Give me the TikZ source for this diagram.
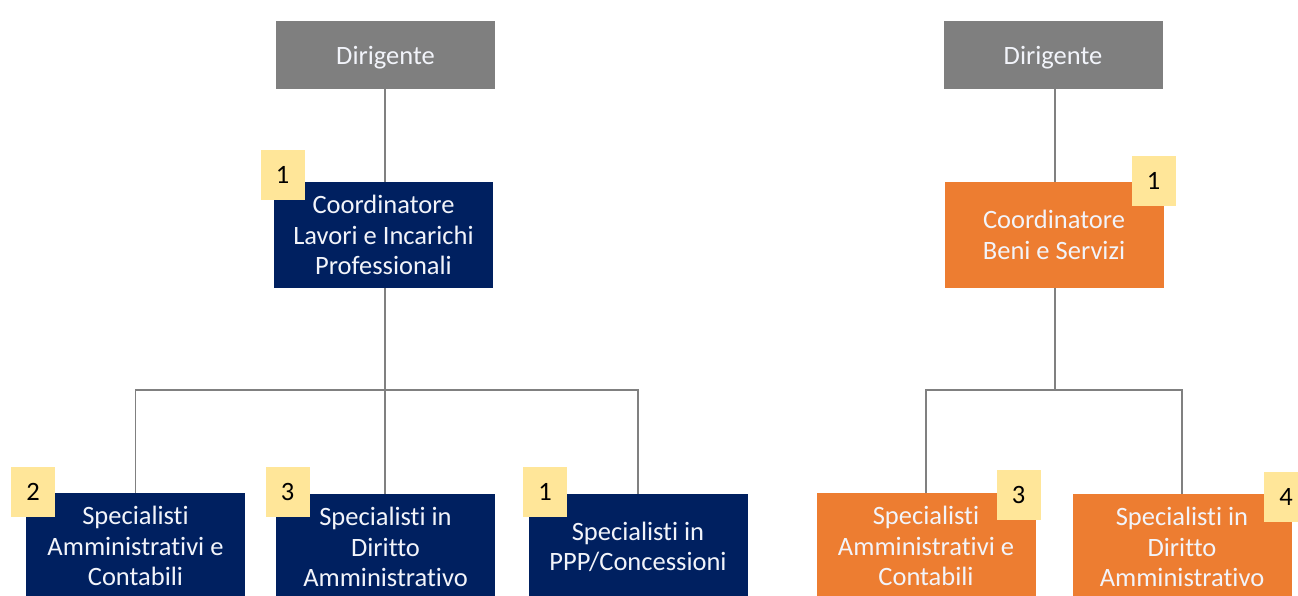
\documentclass[tikz,border=0pt]{standalone}
\usepackage{fontspec}
\setmainfont{Carlito}[Ligatures={NoCommon}]
\usetikzlibrary{positioning}
\definecolor{navy}{HTML}{002060}
\definecolor{orng}{HTML}{ED7D31}
\definecolor{dgray}{HTML}{7F7F7F}
\definecolor{badgec}{HTML}{FFE699}
\definecolor{linec}{HTML}{808080}
\definecolor{txtc}{HTML}{F2F4FA}
\tikzset{
  boxbase/.style={rectangle, inner sep=0pt, align=center, text=txtc,
    font=\fontsize{26.5}{30.5}\selectfont},
  dirbox/.style={boxbase, fill=dgray, minimum width=219pt, minimum height=68pt, text depth=0pt},
  navybox/.style={boxbase, fill=navy, minimum width=219pt, minimum height=106pt},
  orbox/.style={boxbase, fill=orng, minimum width=219pt, minimum height=106pt},
  badge/.style={rectangle, fill=badgec, inner sep=0pt, minimum width=44pt, minimum height=50pt,
    text=black, font=\fontsize{26.5}{30}\selectfont},
  conn/.style={draw=linec, line width=1.4pt},
}
\begin{document}
\begin{tikzpicture}[x=1pt,y=-1pt]
\useasboundingbox (0,0) rectangle (1298,595);
\begin{scope}
\clip (0,0) rectangle (1298,595);
% left tree
\node[dirbox] (dirL) at (385.5,55) {Dirigente};
\node[navybox] (coordL) at (383.5,235) {Coordinatore\\Lavori e Incarichi\\Professionali};
\node[navybox] (b1) at (135.5,546) {Specialisti\\Amministrativi e\\Contabili};
\node[navybox] (b2) at (385.5,547) {Specialisti in\\Diritto\\Amministrativo};
\node[navybox] (b3) at (638,547) {Specialisti in\\PPP/Concessioni};
% right tree
\node[dirbox] (dirR) at (1053,55) {Dirigente};
\node[orbox] (coordR) at (1054,235) {Coordinatore\\Beni e Servizi};
\node[orbox] (b4) at (926,546) {Specialisti\\Amministrativi e\\Contabili};
\node[orbox] (b5) at (1182,547) {Specialisti in\\Diritto\\Amministrativo};
% connectors
\coordinate (jL) at (385,390);
\coordinate (jR) at (1055,390);
\draw[conn] (dirL.south -| jL) -- (coordL.north -| jL);
\draw[conn] (coordL.south -| jL) -- (jL);
\draw[conn] (jL) -| (b1.north);
\draw[conn] (jL) -- (b2.north -| jL);
\draw[conn] (jL) -| (b3.north);
\draw[conn] (dirR.south -| jR) -- (coordR.north -| jR);
\draw[conn] (coordR.south -| jR) -- (jR);
\draw[conn] (jR) -| (b4.north);
\draw[conn] (jR) -| (b5.north);
% badges
\node[badge] (k1) at (282.5,175) {1};
\node[badge] (k2) at (33,492) {2};
\node[badge] (k3) at (287.5,492) {3};
\node[badge] (k4) at (545,492) {1};
\node[badge] (k5) at (1153.5,180.5) {1};
\node[badge] (k6) at (1018.5,495) {3};
\node[badge] (k7) at (1286,497) {4};
\end{scope}
\end{tikzpicture}
\end{document}
